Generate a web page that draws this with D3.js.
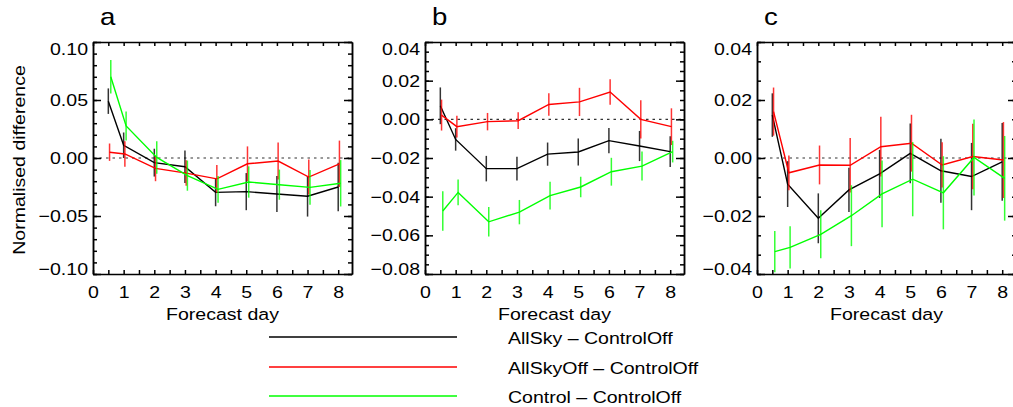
<!DOCTYPE html>
<html>
<head>
<meta charset="utf-8">
<script src="https://cdn.jsdelivr.net/npm/d3@7"></script>
<style>
  body { margin: 0; background: #fff; }
  svg { display: block; font-family: "Liberation Sans", Arial, Helvetica, sans-serif; }
</style>
</head>
<body>
<div id="chart"></div>
<script>
// forecast days shared by every panel
const days = [0.5, 1, 2, 3, 4, 5, 6, 7, 8];
const seriesNames = ["AllSky \u2013 ControlOff", "AllSkyOff \u2013 ControlOff", "Control \u2013 ControlOff"];
const panelLabels = ["a", "b", "c"];

// panel a
const aAllSky       = [0.049, 0.011, -0.004, -0.0075, -0.0296, -0.029, -0.031, -0.033, -0.025];
const aAllSkyErr    = [0.011, 0.011, 0.012, 0.014, 0.012, 0.016, 0.0155, 0.0175, 0.021];
const aAllSkyOff    = [0.005, 0.0035, -0.009, -0.013, -0.018, -0.005, -0.0026, -0.0164, -0.005];
const aAllSkyOffErr = [0.0075, 0.011, 0.011, 0.011, 0.012, 0.015, 0.016, 0.015, 0.02];
const aControl      = [0.070, 0.0276, 0.0005, -0.0152, -0.027, -0.0207, -0.023, -0.0253, -0.0218];
const aControlErr   = [0.0145, 0.0125, 0.014, 0.013, 0.0115, 0.0135, 0.013, 0.015, 0.02];

// panel b
const bAllSky       = [0.007, -0.0104, -0.0255, -0.0255, -0.018, -0.0169, -0.011, -0.0138, -0.0167];
const bAllSkyErr    = [0.0095, 0.0058, 0.0066, 0.0062, 0.006, 0.007, 0.0065, 0.0078, 0.008];
const bAllSkyOff    = [0.0022, -0.0038, -0.0012, -0.0007, 0.0077, 0.009, 0.0141, 0.0, -0.0038];
const bAllSkyOffErr = [0.008, 0.0056, 0.0045, 0.0043, 0.0058, 0.0073, 0.0066, 0.0099, 0.0095];
const bControl      = [-0.0474, -0.0378, -0.053, -0.048, -0.0395, -0.035, -0.0271, -0.0242, -0.0167];
const bControlErr   = [0.0102, 0.0067, 0.0076, 0.0063, 0.0072, 0.0053, 0.0072, 0.0075, 0.0056];

// panel c
const cAllSky       = [0.0148, -0.009, -0.0208, -0.011, -0.0055, 0.0016, -0.0044, -0.0064, -0.0013];
const cAllSkyErr    = [0.0075, 0.0079, 0.0086, 0.0076, 0.0083, 0.0103, 0.011, 0.0116, 0.0134];
const cAllSkyOff    = [0.016, -0.0051, -0.0024, -0.0025, 0.0039, 0.0051, -0.0024, 0.0005, -0.0007];
const cAllSkyOffErr = [0.0083, 0.006, 0.0067, 0.0094, 0.0103, 0.0098, 0.0078, 0.0113, 0.0131];
const cControl      = [-0.0323, -0.0308, -0.0263, -0.0199, -0.0124, -0.0073, -0.012, 0.0002, -0.007];
const cControlErr   = [0.0071, 0.0073, 0.0083, 0.0105, 0.0115, 0.0128, 0.0126, 0.0131, 0.0146];

const colors = ["#000000", "#ff0000", "#00ff00"];
const dodge = [0, 0.04, 0.08]; // small x shift per series, in days

const W = 1013, H = 407;
const plotTop = 42, plotBottom = 274, pw = 259;
const FS = 17, SX = 1.15;

const panels = [
    {left: 93,  domain: [-0.1, 0.1],   major: 0.05, minor: 0.01,
     series: [[aAllSky, aAllSkyErr], [aAllSkyOff, aAllSkyOffErr], [aControl, aControlErr]]},
    {left: 425, domain: [-0.08, 0.04], major: 0.02, minor: 0.005,
     series: [[bAllSky, bAllSkyErr], [bAllSkyOff, bAllSkyOffErr], [bControl, bControlErr]]},
    {left: 757, domain: [-0.04, 0.04], major: 0.02, minor: 0.02 / 3,
     series: [[cAllSky, cAllSkyErr], [cAllSkyOff, cAllSkyOffErr], [cControl, cControlErr]]},
]

function steps(lo, hi, step) {
    const n = Math.round((hi - lo) / step);
    return d3.range(n + 1).map(i => Math.round((lo + i * step) * 1e6) / 1e6);
}

const svg = d3.select("#chart")
    .append("svg")
    .attr("width", W)
    .attr("height", H)

svg.append("rect").attr("width", W).attr("height", H).attr("fill", "#fff")

panels.forEach((p, pi) => {
    const x = d3.scaleLinear().domain([0, 8.45]).range([0, pw]);
    const y = d3.scaleLinear().domain(p.domain).range([plotBottom - plotTop, 0]);
    const g = svg.append("g").attr("transform", `translate(${p.left},${plotTop})`);

    const majors = steps(p.domain[0], p.domain[1], p.major);
    const minors = steps(p.domain[0], p.domain[1], p.minor);
    const xTicks = steps(0, 8, 0.5);

    // zero line
    g.append("line")
        .attr("x1", 0).attr("x2", pw)
        .attr("y1", y(0)).attr("y2", y(0))
        .attr("stroke", "#333")
        .attr("stroke-width", 1.2)
        .attr("stroke-dasharray", "2.5,4")

    // axes: minor ticks, then major ticks with labels
    const fmt = d3.format(".2f");
    g.append("g").call(d3.axisLeft(y).tickValues(minors).tickSize(-4).tickSizeOuter(0).tickFormat(""));
    g.append("g").attr("transform", `translate(${pw},0)`)
        .call(d3.axisRight(y).tickValues(minors).tickSize(-4).tickSizeOuter(0).tickFormat(""));
    g.append("g").attr("transform", `translate(${pw},0)`)
        .call(d3.axisRight(y).tickValues(majors).tickSize(-8).tickSizeOuter(0).tickFormat(""));
    const yAxis = g.append("g")
        .call(d3.axisLeft(y).tickValues(majors).tickSize(-8).tickSizeOuter(0).tickPadding(5 / SX).tickFormat(fmt));
    yAxis.selectAll("text")
        .attr("transform", `scale(${SX},1)`)
        .attr("y", d => d === p.domain[1] ? 7 : d === p.domain[0] ? -5 : 0)

    g.append("g").attr("transform", `translate(0,${plotBottom - plotTop})`)
        .call(d3.axisBottom(x).tickValues(xTicks).tickSize(-4).tickSizeOuter(0).tickPadding(12)
            .tickFormat(d => Number.isInteger(d) ? d : ""))
        .selectAll("text")
        .attr("transform", `scale(${SX},1)`)
    g.append("g")
        .call(d3.axisTop(x).tickValues(xTicks).tickSize(-4).tickSizeOuter(0).tickFormat(""));

    svg.selectAll(".domain, .tick line")
        .attr("stroke", "#000")
        .attr("stroke-width", 1.5)
    svg.selectAll(".tick text")
        .attr("font-size", FS)
        .attr("font-family", null)
        .attr("fill", "#000")

    // series: error bars then line
    p.series.forEach(([vals, errs], si) => {
        const pts = days.map((d, i) => ({day: d + dodge[si], v: vals[i], e: errs[i]}));
        g.append("g")
            .selectAll("line")
            .data(pts)
            .join("line")
            .attr("x1", d => x(d.day)).attr("x2", d => x(d.day))
            .attr("y1", d => y(d.v - d.e)).attr("y2", d => y(d.v + d.e))
            .attr("stroke", colors[si])
            .attr("stroke-width", 1.5)
            .attr("stroke-opacity", 0.8)
        g.append("path")
            .datum(pts)
            .attr("fill", "none")
            .attr("stroke", colors[si])
            .attr("stroke-width", 1.4)
            .attr("d", d3.line().x(d => x(d.day)).y(d => y(d.v)))
    })

    // panel letter and x title
    svg.append("text")
        .attr("transform", `translate(${p.left + 7},25) scale(${SX},1)`)
        .attr("font-size", 24)
        .text(panelLabels[pi])
    svg.append("text")
        .attr("transform", `translate(${p.left + pw / 2},320) scale(${SX},1)`)
        .attr("text-anchor", "middle")
        .attr("font-size", FS)
        .text("Forecast day")
})

// y title
svg.append("text")
    .attr("transform", `translate(25,160) rotate(-90) scale(${SX},1)`)
    .attr("text-anchor", "middle")
    .attr("font-size", FS)
    .text("Normalised difference")

// legend
const legendY = [337, 367, 396];
seriesNames.forEach((name, i) => {
    svg.append("line")
        .attr("x1", 269).attr("x2", 457)
        .attr("y1", legendY[i]).attr("y2", legendY[i])
        .attr("stroke", colors[i])
        .attr("stroke-width", 1.5)
    svg.append("text")
        .attr("transform", `translate(508,${legendY[i] + 7}) scale(${SX},1)`)
        .attr("font-size", FS)
        .text(name)
})
</script>
</body>
</html>
